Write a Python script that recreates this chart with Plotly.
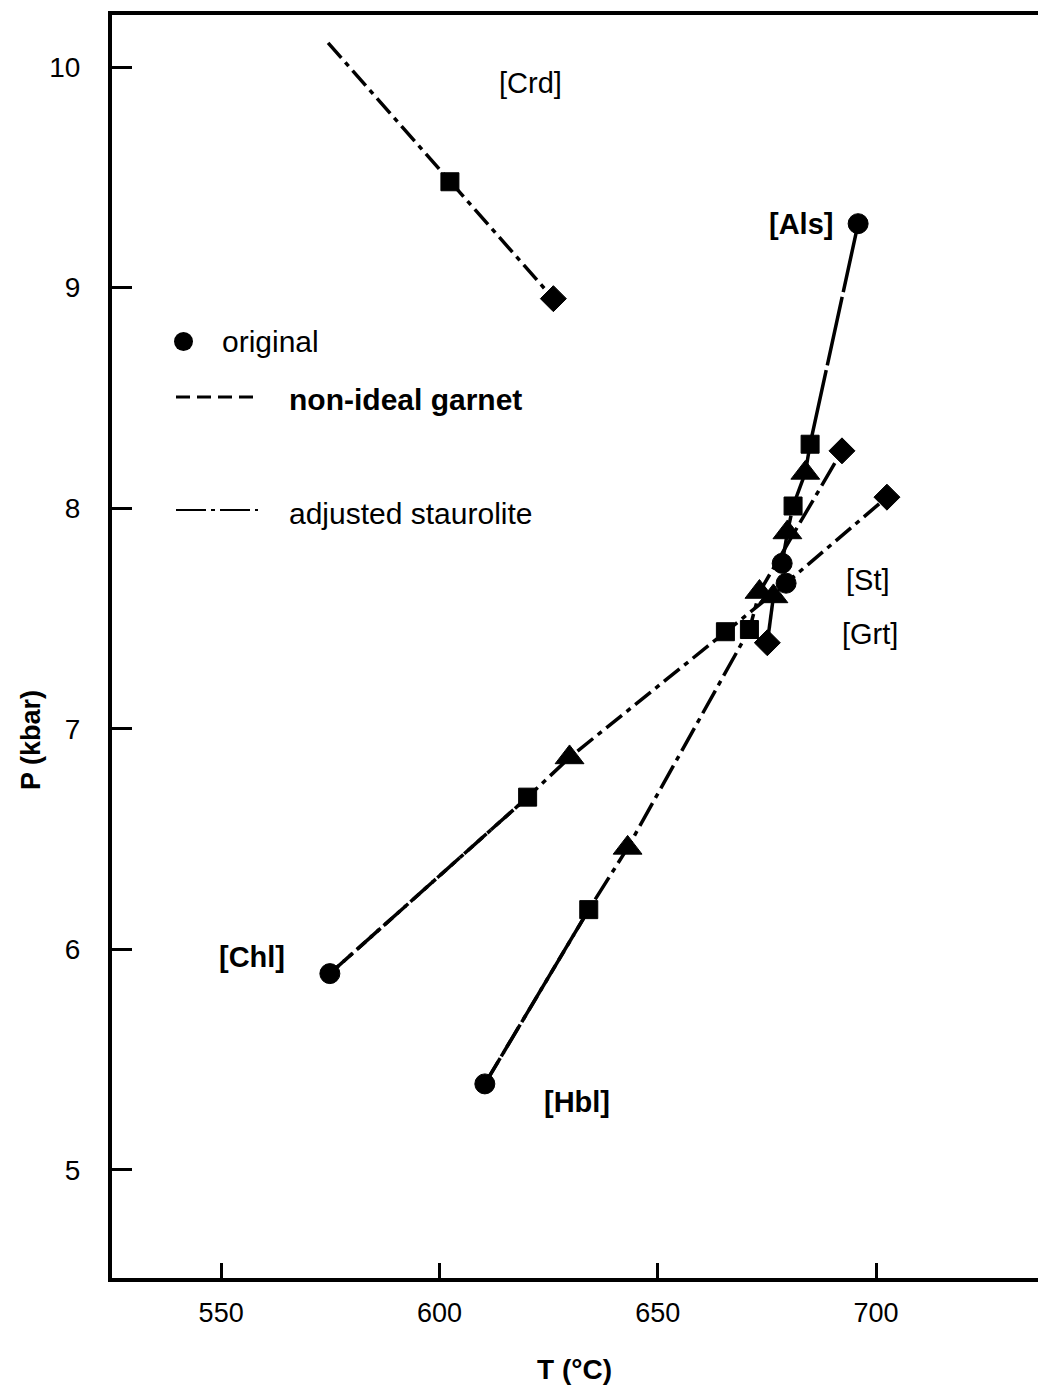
import plotly.graph_objects as go

# ---- reaction curves (T in degC, P in kbar) ----
crd_T = [574.5, 602.4, 626.1]
crd_P = [10.11, 9.48, 8.95]
crd_sym = ["circle", "square", "diamond"]
crd_size = [0, 18, 20]

als_T = [695.9, 684.9, 683.8, 681.0, 679.7, 678.5]
als_P = [9.29, 8.29, 8.16, 8.01, 7.89, 7.75]
als_sym = ["circle", "square", "triangle-up", "square", "triangle-up", "circle"]

als2_T = [676.5, 675.1]
als2_P = [7.60, 7.39]
als2_sym = ["triangle-up", "diamond"]

chl_T = [574.9, 620.2, 629.8, 665.5, 679.4, 702.5]
chl_P = [5.89, 6.69, 6.87, 7.44, 7.66, 8.05]
chl_sym = ["circle", "square", "triangle-up", "square", "circle", "diamond"]

hbl_T = [610.4, 634.2, 643.1, 671.0, 673.3, 692.2]
hbl_P = [5.39, 6.18, 6.46, 7.45, 7.62, 8.26]
hbl_sym = ["circle", "square", "triangle-up", "square", "triangle-up", "diamond"]

# field labels
label_text = ["[Crd]", "[Als]", "[St]", "[Grt]", "[Chl]", "[Hbl]"]
label_T = [620.8, 682.8, 698.2, 698.6, 557.1, 631.5]
label_P = [9.93, 9.29, 7.675, 7.43, 5.965, 5.31]
label_bold = [False, True, False, False, True, True]

x_ticks = [550, 600, 650, 700]
y_ticks = [5, 6, 7, 8, 9, 10]

FONT = "Liberation Sans, Arial, Helvetica, sans-serif"
DASHDOT = "20px,6px,5px,6px"
LONGDOT = "26px,6px,5px,6px"

W, H = 1038, 1390
ML, MR, MT, MB = 112, 0, 15, 112
PW, PH = W - ML - MR, H - MT - MB


def sizes(symbols):
    table = {"circle": 20, "square": 18, "triangle-up": 25, "diamond": 20}
    return [table[s] for s in symbols]


def px(x):
    return (x - ML) / PW


def py(y):
    return 1 - (y - MT) / PH


fig = go.Figure()

# dashed (non-ideal garnet) companions of the low-T branches
fig.add_trace(go.Scatter(x=chl_T[:2], y=chl_P[:2], mode="lines",
                         line=dict(color="#000000", width=3.5, dash="12px,6px"),
                         showlegend=False))
fig.add_trace(go.Scatter(x=hbl_T[:2], y=hbl_P[:2], mode="lines",
                         line=dict(color="#000000", width=3.5, dash="30px,6px"),
                         showlegend=False))

curves = [
    (crd_T, crd_P, crd_sym, DASHDOT, crd_size),
    (als_T, als_P, als_sym, "70px,5px", None),
    (als2_T, als2_P, als2_sym, "solid", None),
    (chl_T, chl_P, chl_sym, DASHDOT, None),
    (hbl_T, hbl_P, hbl_sym, LONGDOT, None),
]
for T, P, sym, dash, sz in curves:
    fig.add_trace(go.Scatter(
        x=T, y=P, mode="lines+markers",
        line=dict(color="#000000", width=3.5, dash=dash),
        marker=dict(color="#000000", symbol=sym,
                    size=sz if sz else sizes(sym), opacity=1,
                    line=dict(width=1, color="#000000")),
        opacity=1,
        showlegend=False))

annotations = []
for t, xv, yv, b in zip(label_text, label_T, label_P, label_bold):
    annotations.append(dict(
        x=xv, y=yv, xref="x", yref="y", showarrow=False,
        xanchor="center", yanchor="middle",
        text=f"<b>{t}</b>" if b else t,
        font=dict(family=FONT, size=29, color="black")))

# legend block
annotations += [
    dict(x=px(220), y=py(341), xref="paper", yref="paper", xanchor="left",
         yanchor="middle", showarrow=False, text="original",
         font=dict(family=FONT, size=30, color="black")),
    dict(x=px(287), y=py(399), xref="paper", yref="paper", xanchor="left",
         yanchor="middle", showarrow=False, text="<b>non-ideal garnet</b>",
         font=dict(family=FONT, size=30, color="black")),
    dict(x=px(287), y=py(513), xref="paper", yref="paper", xanchor="left",
         yanchor="middle", showarrow=False, text="adjusted staurolite",
         font=dict(family=FONT, size=30, color="black")),
    # axis titles
    dict(x=px(31), y=py(740), xref="paper", yref="paper", xanchor="center",
         yanchor="middle", showarrow=False, textangle=-90,
         text="<b>P (kbar)</b>", font=dict(family=FONT, size=27, color="black")),
    dict(x=px(574), y=py(1369), xref="paper", yref="paper", xanchor="center",
         yanchor="middle", showarrow=False,
         text="<b>T (°C)</b>", font=dict(family=FONT, size=28, color="black")),
]
shapes = [
    dict(type="circle", xref="paper", yref="paper",
         x0=px(174), x1=px(193), y0=py(351), y1=py(332),
         fillcolor="black", line=dict(color="black", width=0)),
    dict(type="line", xref="paper", yref="paper",
         x0=px(176), x1=px(258), y0=py(397), y1=py(397),
         line=dict(color="black", width=3, dash="14px,7px")),
    dict(type="line", xref="paper", yref="paper",
         x0=px(176), x1=px(258), y0=py(510), y1=py(510),
         line=dict(color="black", width=2, dash="30px,5px,4px,5px")),
]

fig.update_layout(
    width=W, height=H,
    margin=dict(l=ML, r=MR, t=MT, b=MB),
    paper_bgcolor="white", plot_bgcolor="white",
    font=dict(family=FONT, color="black"),
    annotations=annotations, shapes=shapes,
    showlegend=False,
)
fig.update_xaxes(
    range=[525.0, 737.1], tickvals=x_ticks, ticks="inside", ticklen=15,
    tickwidth=3, tickcolor="black", showgrid=False, zeroline=False,
    showline=True, linewidth=4, linecolor="black", mirror=True,
    tickfont=dict(family=FONT, size=27, color="black"),
    ticklabelstandoff=8,
)
fig.update_yaxes(
    range=[4.51, 10.236], tickvals=y_ticks, ticks="inside", ticklen=20,
    tickwidth=3, tickcolor="black", showgrid=False, zeroline=False,
    showline=True, linewidth=4, linecolor="black",
    tickfont=dict(family=FONT, size=28, color="black"),
    ticklabelstandoff=22,
)

fig.write_html("out.html")
